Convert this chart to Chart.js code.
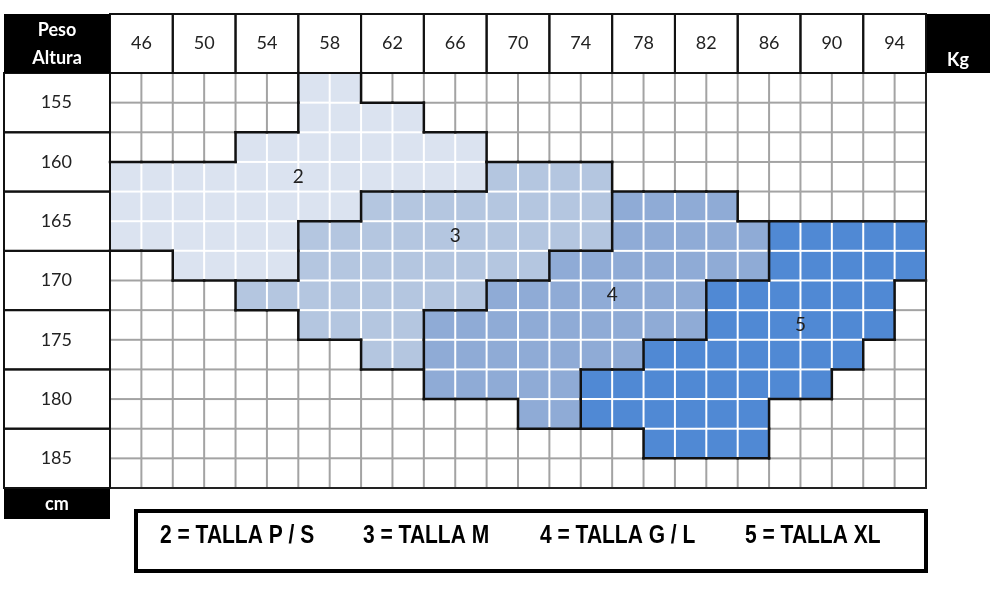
<!DOCTYPE html>
<html lang="es">
<head>
<meta charset="UTF-8">
<title>Tabla de tallas</title>
<style>
  body { margin: 0; background: #fff; }
  canvas { display: block; }
</style>
</head>
<body>
<canvas id="tallas" width="1000" height="594"></canvas>
<script src="https://cdn.jsdelivr.net/npm/chart.js"></script>
<script>
// header labels: each one covers 2 grid cells
const weights = [46, 50, 54, 58, 62, 66, 70, 74, 78, 82, 86, 90, 94];
const heights = [155, 160, 165, 170, 175, 180, 185];
const subRows = heights.flatMap(h => [h + 'a', h + 'b']);

// size zones: one [from, to) column range per grid row, null = empty
const talla2 = [[6, 8], [6, 10], [4, 12], [0, 12], [0, 8], [0, 6], [2, 6], null, null, null, null, null, null, null];
const talla3 = [null, null, null, [12, 16], [8, 16], [6, 16], [6, 14], [4, 12], [6, 10], [8, 10], null, null, null, null];
const talla4 = [null, null, null, null, [16, 20], [16, 21], [14, 21], [12, 19], [10, 19], [10, 17], [10, 15], [13, 15], null, null];
const talla5 = [null, null, null, null, null, [21, 26], [21, 26], [19, 25], [19, 25], [17, 24], [15, 23], [15, 21], [17, 21], null];

const zoneNames = ['2', '3', '4', '5'];
const legendText = ['2 = TALLA P / S', '3 = TALLA M', '4 = TALLA G / L', '5 = TALLA XL'];

const zoneColors = ['#dbe3f0', '#b4c6e0', '#8fabd6', '#5089d4'];
const labelAt = [[6, 3.5], [11, 5.5], [16, 7.5], [22, 8.5]];   // grid coords of the zone numbers
const legendX = [160, 363, 540, 745];
const FONT = 'Lato, "Open Sans", sans-serif';

const tablePlugin = {
  id: 'tabla',
  beforeDraw(chart) {
    const ctx = chart.ctx;
    ctx.save();
    ctx.fillStyle = '#fff';
    ctx.fillRect(0, 0, chart.width, chart.height);
    ctx.restore();
  },
  afterDatasetsDraw(chart) {
    const ctx = chart.ctx;
    const x = chart.scales.x, y = chart.scales.yH;
    const nCols = x.max, nRows = y.max;
    const px = c => x.getPixelForValue(c), py = r => y.getPixelForValue(r);

    // zone number of every grid cell (0 = empty)
    const zone = [];
    for (let r = 0; r < nRows; r++) zone.push(new Array(nCols).fill(0));
    chart.data.datasets.forEach((ds, d) => ds.data.forEach((rg, r) => {
      if (rg) for (let c = rg[0]; c < rg[1]; c++) zone[r][c] = d + 1;
    }));

    const black = [];
    ctx.save();
    ctx.lineWidth = 2;
    const seg = (x0, y0, x1, y1, col) => {
      ctx.strokeStyle = col;
      ctx.beginPath(); ctx.moveTo(x0, y0); ctx.lineTo(x1, y1); ctx.stroke();
    };
    for (let r = 0; r < nRows; r++) {
      for (let c = 1; c < nCols; c++) {
        const a = zone[r][c - 1], b = zone[r][c];
        if (a === b) seg(px(c), py(r), px(c), py(r + 1), a ? '#fff' : '#a3a3a3');
        else black.push([px(c), py(r), px(c), py(r + 1)]);
      }
    }
    for (let r = 1; r < nRows; r++) {
      for (let c = 0; c < nCols; c++) {
        const a = zone[r - 1][c], b = zone[r][c];
        if (a === b) seg(px(c), py(r), px(c + 1), py(r), a ? '#fff' : '#a3a3a3');
        else black.push([px(c), py(r), px(c + 1), py(r)]);
      }
    }
    // zone outlines
    ctx.lineWidth = 2.5;
    ctx.lineCap = 'square';
    black.forEach(s => seg(s[0], s[1], s[2], s[3], '#111'));
    // outer frame
    ctx.lineCap = 'butt';
    ctx.lineWidth = 2;
    ctx.strokeStyle = '#222';
    ctx.strokeRect(px(0), py(0), px(nCols) - px(0), py(nRows) - py(0));
    ctx.restore();
  },
  afterDraw(chart) {
    const ctx = chart.ctx;
    const x = chart.scales.x, y = chart.scales.yH;
    const px = c => x.getPixelForValue(c), py = r => y.getPixelForValue(r);
    ctx.save();
    ctx.strokeStyle = '#111';
    ctx.lineWidth = 2;
    // header cells
    weights.forEach((w, i) => ctx.strokeRect(px(2 * i), x.top, px(2 * i + 2) - px(2 * i), x.bottom - x.top));
    heights.forEach((h, i) => ctx.strokeRect(y.left, py(2 * i), y.right - y.left, py(2 * i + 2) - py(2 * i)));

    // black corner boxes
    ctx.fillStyle = '#000';
    ctx.fillRect(y.left, x.top, y.right - y.left, x.bottom - x.top);
    ctx.fillRect(x.right + 1, x.top, 63, x.bottom - x.top);
    ctx.fillRect(y.left, y.bottom + 1, y.right - y.left, 30);
    ctx.fillStyle = '#fff';
    ctx.font = 'bold 18px ' + FONT;
    ctx.textAlign = 'center';
    ctx.textBaseline = 'middle';
    const cx = (y.left + y.right) / 2;
    ctx.fillText('Peso', cx, x.top + 16);
    ctx.fillText('Altura', cx, x.top + 44);
    ctx.fillText('Kg', x.right + 32, x.bottom - 13);
    ctx.fillText('cm', cx, y.bottom + 16);

    // zone numbers
    ctx.fillStyle = '#222';
    ctx.font = '19px ' + FONT;
    zoneNames.forEach((n, i) => ctx.fillText(n, px(labelAt[i][0]), py(labelAt[i][1])));

    // legend box
    ctx.lineWidth = 4;
    ctx.strokeStyle = '#000';
    ctx.strokeRect(136, 511, 790, 60);
    ctx.fillStyle = '#000';
    ctx.textAlign = 'left';
    ctx.font = 'bold 25px "Liberation Sans", Arial, sans-serif';
    legendText.forEach((t, i) => {
      // narrow look: squeeze the text horizontally
      ctx.save();
      ctx.translate(legendX[i], 536);
      ctx.scale(0.84, 1);
      ctx.fillText(t, 0, 0);
      ctx.restore();
    });
    ctx.restore();
  }
};

const datasets = [talla2, talla3, talla4, talla5].map((d, i) => ({
  label: 'Talla ' + zoneNames[i],
  data: d,
  backgroundColor: zoneColors[i],
  borderWidth: 0,
  barPercentage: 1,
  categoryPercentage: 1,
  grouped: false,
  xAxisID: 'x',
  yAxisID: 'y'
}));

new Chart(document.getElementById('tallas'), {
  type: 'bar',
  data: { labels: subRows, datasets },
  options: {
    indexAxis: 'y',
    responsive: false,
    animation: false,
    layout: { padding: { left: 4, top: 14, right: 74, bottom: 106 } },
    plugins: { legend: { display: false }, tooltip: { enabled: false } },
    scales: {
      x: {
        type: 'linear', position: 'top', min: 0, max: weights.length * 2, offset: false,
        afterFit: s => { s.height = 59; },
        afterBuildTicks: s => { s.ticks = weights.map((w, i) => ({ value: 2 * i + 1 })); },
        ticks: {
          callback: v => weights[(v - 1) / 2],
          color: '#222', font: { family: FONT, size: 18 }, padding: 19, maxRotation: 0
        },
        grid: { display: false, drawTicks: false, offset: false }, border: { display: false }
      },
      y: { type: 'category', display: false },
      yH: {
        type: 'linear', position: 'left', reverse: true, min: 0, max: heights.length * 2, offset: false,
        afterFit: s => { s.width = 106; },
        afterBuildTicks: s => { s.ticks = heights.map((h, i) => ({ value: 2 * i + 1 })); },
        ticks: {
          callback: v => heights[(v - 1) / 2],
          color: '#222', font: { family: FONT, size: 18 }, padding: 38
        },
        grid: { display: false, drawTicks: false, offset: false }, border: { display: false }
      }
    }
  },
  plugins: [tablePlugin]
});
</script>
</body>
</html>
